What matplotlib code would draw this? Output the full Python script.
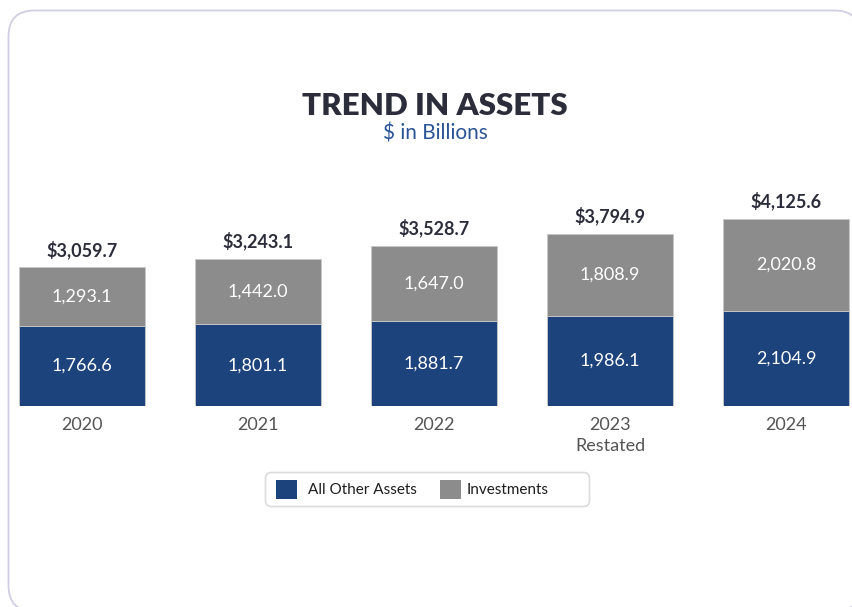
import matplotlib
matplotlib.use("Agg")
import matplotlib.pyplot as plt
from matplotlib.patches import FancyBboxPatch, Rectangle

years = ["2020", "2021", "2022", "2023", "2024"]
year_notes = ["", "", "", "Restated", ""]
other_assets = [1766.6, 1801.1, 1881.7, 1986.1, 2104.9]
investments = [1293.1, 1442.0, 1647.0, 1808.9, 2020.8]
totals = [3059.7, 3243.1, 3528.7, 3794.9, 4125.6]

BLUE = "#1d437d"
GRAY = "#8c8c8c"
DARK = "#2b2e3a"
W, H = 853, 607

fig = plt.figure(figsize=(W / 100, H / 100), dpi=100)
fig.patch.set_facecolor("white")

# background card
bg = fig.add_axes([0, 0, 1, 1])
bg.set_xlim(0, W)
bg.set_ylim(H, 0)
bg.axis("off")
bg.add_patch(FancyBboxPatch((8.5, 10.5), 852, 601, boxstyle="round,pad=0,rounding_size=26",
                            fc="white", ec="#cfcee2", lw=1.3))
bg.text(W / 2 + 8.5, 106, "TREND IN ASSETS", ha="center", va="center", fontsize=22.5,
        fontweight="heavy", family="Lato", color=DARK)
bg.text(W / 2 + 8.5, 134, "$ in Billions", ha="center", va="center", fontsize=15,
        family="Lato", color="#2a5496")

# legend box
bg.add_patch(FancyBboxPatch((265.5, 472.5), 324, 34, boxstyle="round,pad=0,rounding_size=6",
                            fc="white", ec="#dcdcdc", lw=1.2))
bg.add_patch(Rectangle((276, 480), 21, 19, fc=BLUE, ec="none"))
bg.text(308, 490, "All Other Assets", ha="left", va="center", fontsize=11, family="Lato", color="#1e1e1e")
bg.add_patch(Rectangle((440, 480), 21, 19, fc=GRAY, ec="none"))
bg.text(467, 490, "Investments", ha="left", va="center", fontsize=11, family="Lato", color="#1e1e1e")

# bar axes
scale = 0.04533  # px per unit
base_px = 406
spacing = 176.0
first_c = 82.0
ax = fig.add_axes([0, (H - base_px) / H, 1, base_px / H])
ax.set_xlim(-first_c / spacing, (W - first_c) / spacing)
ax.set_ylim(0, base_px / scale)
ax.axis("off")
ax.patch.set_alpha(0)

x = list(range(len(years)))
bw = 126 / spacing
ax.bar(x, other_assets, width=bw, color=BLUE, edgecolor="#c8c8c8", linewidth=0.6)
ax.bar(x, investments, bottom=other_assets, width=bw, color=GRAY, edgecolor="#c8c8c8", linewidth=0.6)

for i in x:
    ax.text(i, other_assets[i] / 2, f"{other_assets[i]:,.1f}", ha="center", va="center",
            color="white", fontsize=13, family="Lato")
    ax.text(i, other_assets[i] + investments[i] / 2, f"{investments[i]:,.1f}", ha="center",
            va="center", color="white", fontsize=13, family="Lato")
    ax.annotate(f"${totals[i]:,.1f}", (i, totals[i]), xytext=(0, 6), textcoords="offset points",
                ha="center", va="bottom", fontsize=13, fontweight="bold", family="Lato", color=DARK)
    ax.annotate(years[i], (i, 0), xytext=(0, -8), textcoords="offset points", ha="center",
                va="top", fontsize=13, family="Lato", color="#555555", annotation_clip=False)
    if year_notes[i]:
        ax.annotate(year_notes[i], (i, 0), xytext=(0, -23), textcoords="offset points",
                    ha="center", va="top", fontsize=13, family="Lato", color="#555555",
                    annotation_clip=False)

fig.savefig("out.png", dpi=100)
